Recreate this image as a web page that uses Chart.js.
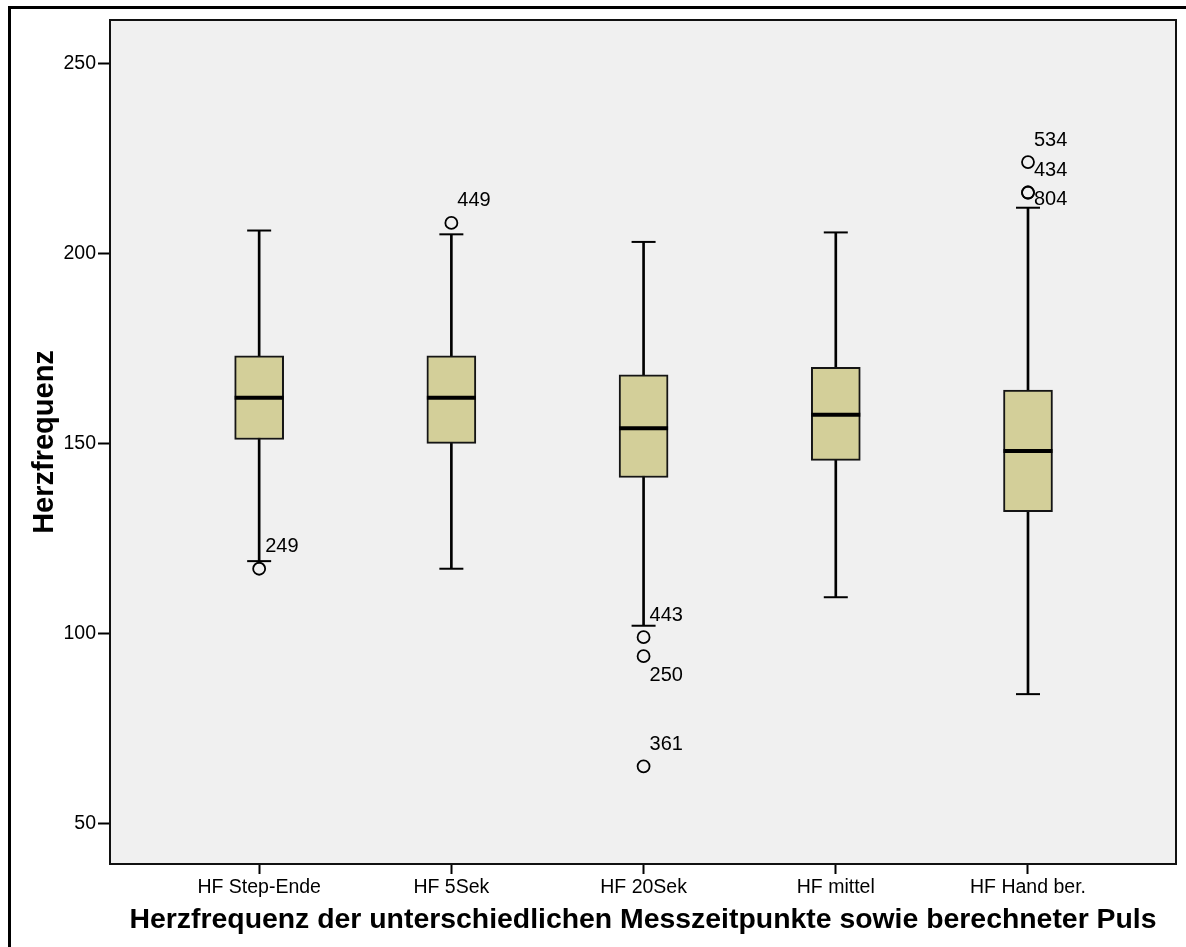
<!DOCTYPE html>
<html>
<head>
<meta charset="utf-8">
<title>Herzfrequenz – Boxplot</title>
<script src="https://cdn.jsdelivr.net/npm/chart.js@4.4.1/dist/chart.umd.min.js"></script>
<style>
  html, body { margin: 0; padding: 0; background: #ffffff; }
  canvas { display: block; }
</style>
</head>
<body>
<canvas id="chart" width="1186" height="947"></canvas>
<script>
// Messzeitpunkte (x categories) and their positions on the x scale
const categories = ['HF Step-Ende', 'HF 5Sek', 'HF 20Sek', 'HF mittel', 'HF Hand ber.'];
const positions = [1, 2, 3, 4, 5];

// Box statistics per Messzeitpunkt (Schläge/min)
const whiskerLow  = [119, 117, 102, 109.5, 84];
const q1          = [151, 150, 141, 145.5, 132];
const median      = [162, 162, 154, 157.5, 148];
const q3          = [173, 173, 168, 170, 164];
const whiskerHigh = [206, 205, 203, 205.5, 212];

// Ausreißer: group position, value and case number
const outlierGroup = [1, 2, 3, 3, 3, 5, 5, 5];
const outlierValue = [117, 208, 99, 94, 65, 224, 216, 216];
const outlierCase  = ['249', '449', '443', '250', '361', '534', '434', '804'];

// y-axis tick values
const yTicks = [50, 100, 150, 200, 250];

// vertical nudge (px) of case labels that would otherwise collide
const labelShift = { '250': 19, '804': 7 };

const FONT = '"Liberation Sans", Arial, Helvetica, sans-serif';
Chart.defaults.font.family = FONT;
Chart.defaults.color = '#000';

const boxes = positions.map((p, i) => ({ x: p, y: [q1[i], q3[i]] }));
const whiskers = positions.map((p, i) => ({ x: p, y: [whiskerLow[i], whiskerHigh[i]] }));
const caps = positions.flatMap((p, i) => [{ x: p, y: whiskerLow[i] }, { x: p, y: whiskerHigh[i] }]);
const medians = positions.map((p, i) => ({ x: p, y: median[i] }));
const outliers = outlierValue.map((v, i) => ({ x: outlierGroup[i], y: v }));

// page frame, plot background and plot border
const framePlugin = {
  id: 'frame',
  beforeDraw(chart) {
    const { ctx, width, height, chartArea: a } = chart;
    ctx.save();
    ctx.fillStyle = '#ffffff';
    ctx.fillRect(0, 0, width, height);
    ctx.fillStyle = '#000000';
    ctx.fillRect(8, 6, width - 8, 3);
    ctx.fillRect(8, 6, 3, height - 6);
    ctx.fillStyle = '#f0f0f0';
    ctx.fillRect(a.left, a.top, a.right - a.left, a.bottom - a.top);
    ctx.restore();
  },
  beforeDatasetsDraw(chart) {
    const { ctx, chartArea: a } = chart;
    ctx.save();
    ctx.strokeStyle = '#111111';
    ctx.lineWidth = 2;
    ctx.strokeRect(a.left, a.top, a.right - a.left, a.bottom - a.top);
    ctx.restore();
  }
};

// case numbers next to the outlier circles
const caseLabelPlugin = {
  id: 'caseLabels',
  afterDatasetsDraw(chart) {
    const { ctx, scales: { x, y } } = chart;
    ctx.save();
    ctx.font = '20px ' + FONT;
    ctx.fillStyle = '#000';
    ctx.textAlign = 'left';
    ctx.textBaseline = 'middle';
    outlierValue.forEach((v, i) => {
      const px = x.getPixelForValue(outlierGroup[i]);
      const py = y.getPixelForValue(v);
      const id = outlierCase[i];
      const dy = (id in labelShift) ? labelShift[id] : -22;
      ctx.fillText(id, px + 6, py + dy);
    });
    ctx.restore();
  }
};

new Chart(document.getElementById('chart'), {
  type: 'bar',
  data: {
    datasets: [
      {
        type: 'scatter',
        data: outliers,
        pointStyle: 'circle',
        pointRadius: 6,
        pointBorderWidth: 1.8,
        pointBorderColor: '#000',
        pointBackgroundColor: 'rgba(0,0,0,0)',
        showLine: false
      },
      {
        type: 'scatter',
        data: medians,
        pointStyle: 'line',
        pointRadius: 24.5,
        pointBorderWidth: 4,
        pointBorderColor: '#000',
        showLine: false
      },
      {
        type: 'scatter',
        data: caps,
        pointStyle: 'line',
        pointRadius: 12,
        pointBorderWidth: 2,
        pointBorderColor: '#000',
        showLine: false
      },
      {
        type: 'bar',
        data: boxes,
        barThickness: 49,
        grouped: false,
        backgroundColor: '#d3cf99',
        borderColor: '#151515',
        borderWidth: 2,
        borderSkipped: false
      },
      {
        type: 'bar',
        data: whiskers,
        barThickness: 2,
        grouped: false,
        backgroundColor: '#000',
        borderWidth: 0
      }
    ]
  },
  options: {
    responsive: false,
    animation: false,
    events: [],
    layout: { autoPadding: false, padding: { top: 20, right: 10, left: 0, bottom: 0 } },
    plugins: { legend: { display: false }, tooltip: { enabled: false } },
    scales: {
      x: {
        type: 'linear',
        min: 0.224,
        max: 5.77,
        bounds: 'data',
        offset: false,
        afterBuildTicks(scale) { scale.ticks = positions.map(v => ({ value: v })); },
        afterFit(scale) {
          scale.height = 83;
          scale.paddingLeft = 0;
          scale.paddingRight = 0;
        },
        grid: { display: true, offset: false, drawOnChartArea: false, drawTicks: true, tickLength: 10, tickWidth: 2, tickColor: '#000' },
        border: { display: false },
        ticks: {
          autoSkip: false, maxRotation: 0, padding: 2,
          font: { size: 19.5 }, color: '#000',
          callback: (v) => categories[positions.indexOf(v)]
        },
        title: {
          display: true,
          text: 'Herzfrequenz der unterschiedlichen Messzeitpunkte sowie berechneter Puls',
          font: { size: 28.4, weight: 'bold' },
          color: '#000',
          padding: { top: 0, bottom: 10 }
        }
      },
      y: {
        type: 'linear',
        min: 39.3,
        max: 261.4,
        bounds: 'data',
        afterBuildTicks(scale) { scale.ticks = yTicks.map(v => ({ value: v })); },
        afterFit(scale) {
          scale.width = 110;
          scale.paddingTop = 0;
          scale.paddingBottom = 0;
        },
        grid: { display: true, drawOnChartArea: false, drawTicks: true, tickLength: 12, tickWidth: 2, tickColor: '#000' },
        border: { display: false },
        ticks: { padding: 2, font: { size: 19.5 }, color: '#000' },
        title: {
          display: true,
          text: 'Herzfrequenz',
          font: { size: 29, weight: 'bold' },
          color: '#000',
          padding: { top: 28, bottom: 0 }
        }
      }
    }
  },
  plugins: [framePlugin, caseLabelPlugin]
});
</script>
</body>
</html>
